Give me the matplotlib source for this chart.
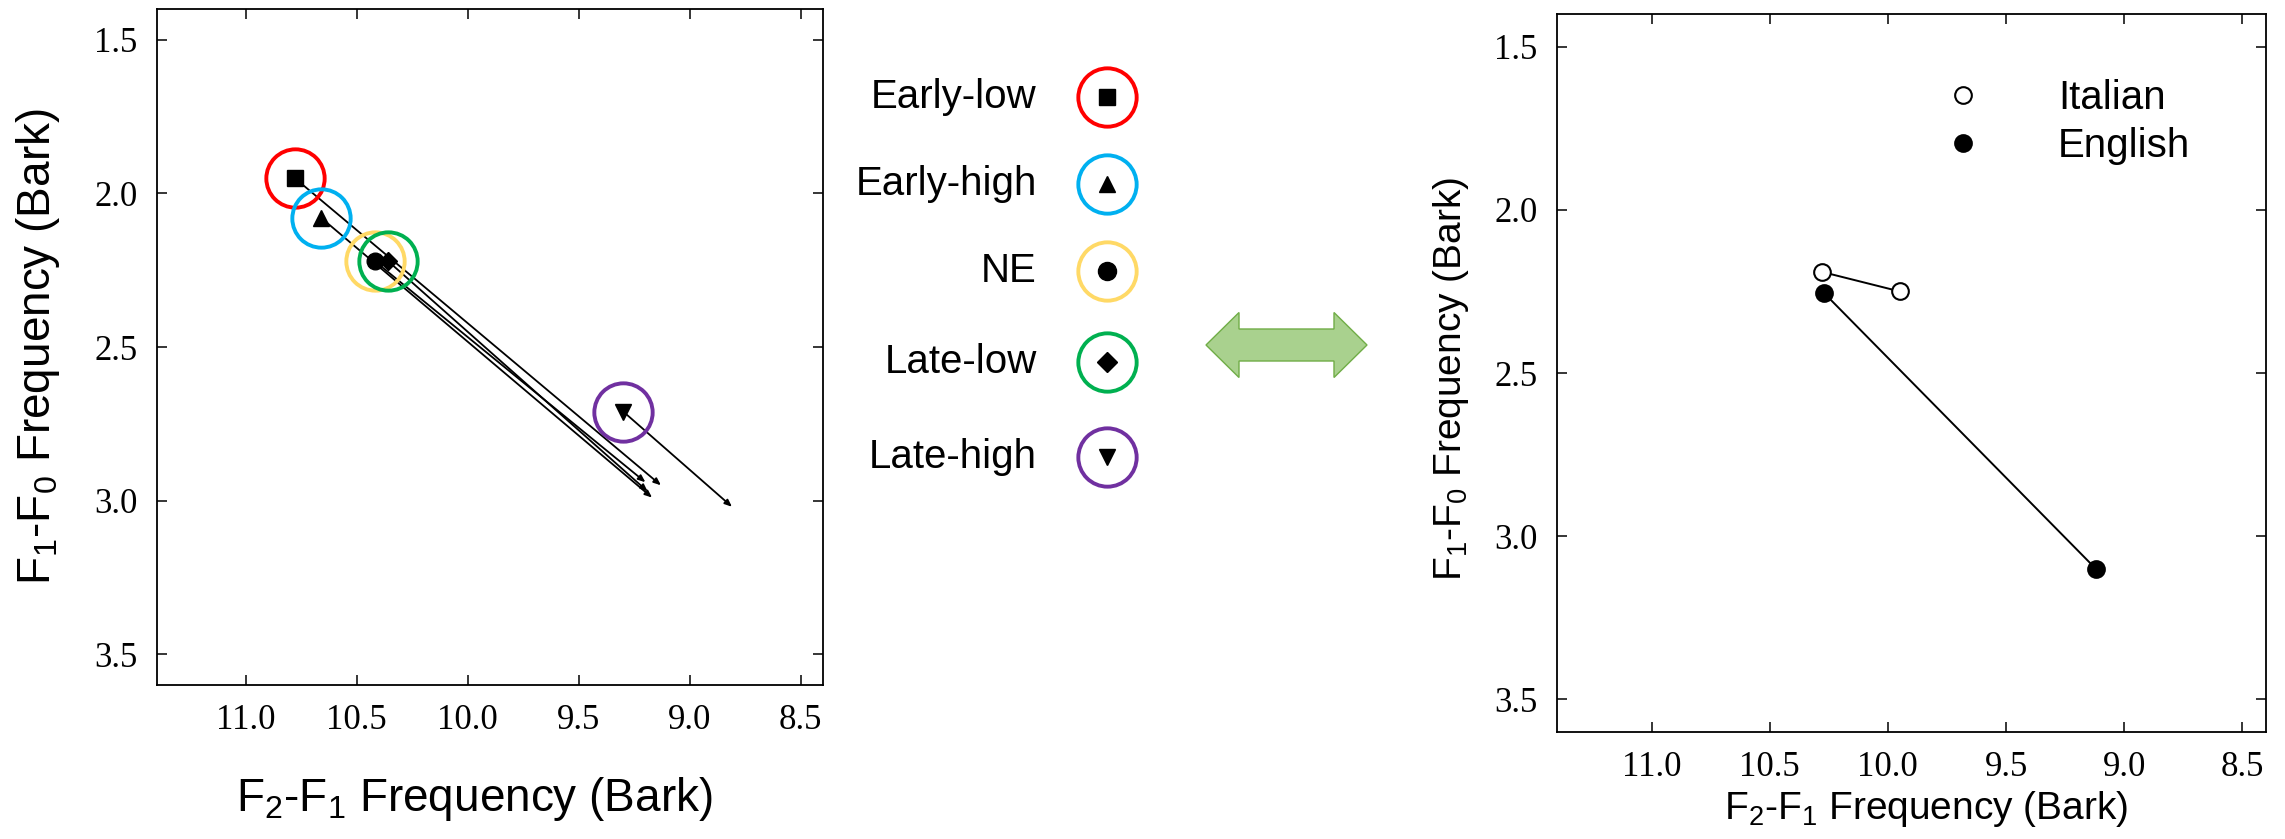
import matplotlib
matplotlib.use('Agg')
import matplotlib.pyplot as plt
from matplotlib.lines import Line2D
from matplotlib.patches import Polygon
from matplotlib.ticker import FormatStrFormatter

plt.rcParams['font.family'] = ['Liberation Sans', 'DejaVu Sans']
plt.rcParams['mathtext.fontset'] = 'custom'
plt.rcParams['mathtext.rm'] = 'Liberation Sans'
plt.rcParams['mathtext.it'] = 'Liberation Sans:italic'
plt.rcParams['mathtext.bf'] = 'Liberation Sans:bold'

# vowel onset -> offset per condition (left panel)
groups = ['Early-low', 'Early-high', 'NE', 'Late-low', 'Late-high']
group_markers = ['s', '^', 'o', 'D', 'v']
ring_colors = ['#FF0000', '#00B0F0', '#FFD966', '#00B050', '#7030A0']
onset_x = [10.78, 10.66, 10.42, 10.36, 9.30]
onset_y = [1.95, 2.08, 2.22, 2.22, 2.71]
offset_x = [9.13, 9.17, 9.20, 9.19, 8.81]
offset_y = [2.95, 2.99, 2.94, 2.97, 3.02]

# right panel
italian_x = [10.28, 9.95]
italian_y = [2.19, 2.25]
english_x = [10.27, 9.12]
english_y = [2.255, 3.10]

xticks = [11.0, 10.5, 10.0, 9.5, 9.0, 8.5]
yticks = [1.5, 2.0, 2.5, 3.0, 3.5]
xlabel = r'F$_2$-F$_1$ Frequency (Bark)'
ylabel = r'F$_1$-F$_0$ Frequency (Bark)'

W, H = 2285, 839
fig = plt.figure(figsize=(W / 100, H / 100), dpi=100)
ax1 = fig.add_axes([157 / W, 1 - 685 / H, 666 / W, 676 / H])
ax2 = fig.add_axes([1557 / W, 1 - 732 / H, 709 / W, 718 / H])


def style_axes(ax, tick_fs):
    ax.set_xlim(11.4, 8.4)
    ax.set_ylim(3.6, 1.4)
    ax.set_xticks(xticks)
    ax.set_yticks(yticks)
    ax.xaxis.set_major_formatter(FormatStrFormatter('%.1f'))
    ax.yaxis.set_major_formatter(FormatStrFormatter('%.1f'))
    ax.tick_params(direction='in', top=True, right=True, length=7, width=1.1,
                   pad=14, labelsize=tick_fs, labelfontfamily='Liberation Serif')
    for s in ax.spines.values():
        s.set_linewidth(1.3)


style_axes(ax1, 25)
style_axes(ax2, 25)

# left panel: trajectories
ms_left = {'s': 11, '^': 12, 'o': 12, 'D': 9, 'v': 12}
for i in range(len(groups)):
    ax1.annotate('', xy=(offset_x[i], offset_y[i]), xytext=(onset_x[i], onset_y[i]),
                 arrowprops=dict(arrowstyle='-|>,head_length=0.6,head_width=0.25',
                                 mutation_scale=7, lw=1.3, color='k',
                                 shrinkA=0, shrinkB=0), zorder=2)
    ax1.plot(onset_x[i], onset_y[i], group_markers[i], color='k',
             ms=ms_left[group_markers[i]], zorder=3)
for i in range(len(groups)):
    ax1.plot(onset_x[i], onset_y[i], 'o', ms=42, mfc='none', mec=ring_colors[i],
             mew=2.8, zorder=4)

ax1.set_xlabel(xlabel, fontsize=33)
ax1.set_ylabel(ylabel, fontsize=33)
ax1.xaxis.set_label_coords(0.476, -0.133)
ax1.yaxis.set_label_coords(-0.143, 0.5)

# right panel
ax2.plot(italian_x, italian_y, '-o', color='k', lw=1.4, ms=12, mfc='white',
         mec='k', mew=1.5)
ax2.plot(english_x, english_y, '-o', color='k', lw=1.4, ms=12, mfc='k',
         mec='k', mew=1.5)
handles = [Line2D([], [], ls='none', marker='o', ms=12, mfc='white', mec='k', mew=1.5),
           Line2D([], [], ls='none', marker='o', ms=12, mfc='k', mec='k', mew=1.5)]
ax2.legend(handles, ['Italian', 'English'], loc='upper left',
           bbox_to_anchor=(0.544, 0.91), frameon=False, fontsize=29,
           handlelength=1.0, handletextpad=1.86, labelspacing=0.25,
           borderpad=0, borderaxespad=0)
ax2.set_xlabel(xlabel, fontsize=28)
ax2.set_ylabel(ylabel, fontsize=28)
ax2.xaxis.set_label_coords(0.52, -0.08)
ax2.yaxis.set_label_coords(-0.121, 0.492)

# middle: key for the coloured rings, and the double arrow
ax0 = fig.add_axes([0, 0, 1, 1])
ax0.set_xlim(0, W)
ax0.set_ylim(H, 0)
ax0.axis('off')
ms_key = {'s': 11, '^': 12, 'o': 13, 'D': 10, 'v': 12}
row_y = [97, 184, 271, 362, 457]
for i, name in enumerate(groups):
    ax0.text(1037, row_y[i], name, ha='right', va='center', fontsize=29)
    ax0.plot(1107, row_y[i], 'o', ms=42, mfc='none', mec=ring_colors[i], mew=2.8)
    ax0.plot(1107, row_y[i], group_markers[i], color='k', ms=ms_key[group_markers[i]])

x0, x1, yc, hh, sh, hl = 1206, 1367, 345, 32.5, 16, 33
arrow = Polygon([(x0, yc), (x0 + hl, yc - hh), (x0 + hl, yc - sh), (x1 - hl, yc - sh),
                 (x1 - hl, yc - hh), (x1, yc), (x1 - hl, yc + hh), (x1 - hl, yc + sh),
                 (x0 + hl, yc + sh), (x0 + hl, yc + hh)],
                closed=True, fc='#A9D18E', ec='#70AD47', lw=1)
ax0.add_patch(arrow)

fig.savefig('out.png', dpi=100)
